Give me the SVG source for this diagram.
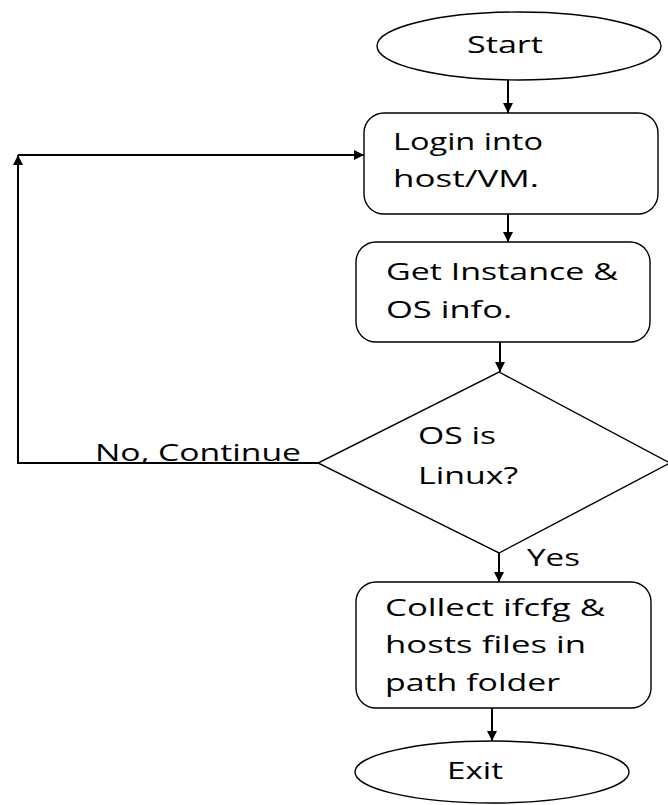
<svg xmlns="http://www.w3.org/2000/svg" width="668" height="805" viewBox="0 0 668 805">
  <style>
    .shape { fill: #ffffff; stroke: #000000; stroke-width: 1.4; }
    .link { fill: none; stroke: #000000; stroke-width: 2; }
    .label { font-family: "Open Sans", "Liberation Sans", sans-serif; font-size: 24px; fill: #000000; }
  </style>
  <defs>
    <marker id="arrow" viewBox="0 0 10 10" refX="10" refY="5" markerWidth="10" markerHeight="10" markerUnits="userSpaceOnUse" orient="auto">
      <path d="M0,0 L10,5 L0,10 z" fill="#000000"/>
    </marker>
  </defs>
  <rect width="668" height="805" fill="#ffffff"/>

  <g id="connectors">
    <line class="link" x1="508" y1="80" x2="508" y2="113" marker-end="url(#arrow)"/>
    <line class="link" x1="508" y1="214" x2="508" y2="242" marker-end="url(#arrow)"/>
    <line class="link" x1="500" y1="342" x2="500" y2="372" marker-end="url(#arrow)"/>
    <line class="link" x1="499" y1="553" x2="499" y2="582" marker-end="url(#arrow)"/>
    <line class="link" x1="492" y1="708" x2="492" y2="741" marker-end="url(#arrow)"/>
    <polyline class="link" points="318,463 18,463 18,155" marker-end="url(#arrow)"/>
    <line class="link" x1="18" y1="155" x2="364" y2="155" marker-end="url(#arrow)"/>
    <text class="label" x="95" y="461" textLength="206" lengthAdjust="spacingAndGlyphs">No, Continue</text>
    <text class="label" x="527" y="566" textLength="53" lengthAdjust="spacingAndGlyphs">Yes</text>
  </g>

  <g id="start">
    <ellipse class="shape" cx="519" cy="46" rx="142" ry="34"/>
    <text class="label" x="467" y="53" textLength="76" lengthAdjust="spacingAndGlyphs">Start</text>
  </g>

  <g id="login">
    <rect class="shape" x="364" y="113" width="294" height="101" rx="20"/>
    <text class="label" x="393" y="150" textLength="150" lengthAdjust="spacingAndGlyphs">Login into</text>
    <text class="label" x="393" y="187" textLength="146" lengthAdjust="spacingAndGlyphs">host/VM.</text>
  </g>

  <g id="get-info">
    <rect class="shape" x="356" y="242" width="294" height="100" rx="20"/>
    <text class="label" x="386" y="280" textLength="232" lengthAdjust="spacingAndGlyphs">Get Instance &amp;</text>
    <text class="label" x="386" y="318" textLength="126" lengthAdjust="spacingAndGlyphs">OS info.</text>
  </g>

  <g id="is-linux">
    <polygon class="shape" points="499,372 670,463 499,553 318,463"/>
    <text class="label" x="418" y="444" textLength="78" lengthAdjust="spacingAndGlyphs">OS is</text>
    <text class="label" x="418" y="484" textLength="100" lengthAdjust="spacingAndGlyphs">Linux?</text>
  </g>

  <g id="collect">
    <rect class="shape" x="356" y="582" width="295" height="126" rx="20"/>
    <text class="label" x="385" y="616" textLength="220" lengthAdjust="spacingAndGlyphs">Collect ifcfg &amp;</text>
    <text class="label" x="385" y="653" textLength="201" lengthAdjust="spacingAndGlyphs">hosts files in</text>
    <text class="label" x="385" y="691" textLength="175" lengthAdjust="spacingAndGlyphs">path folder</text>
  </g>

  <g id="exit">
    <ellipse class="shape" cx="492" cy="772" rx="137" ry="31"/>
    <text class="label" x="447" y="779" textLength="56" lengthAdjust="spacingAndGlyphs">Exit</text>
  </g>
</svg>
